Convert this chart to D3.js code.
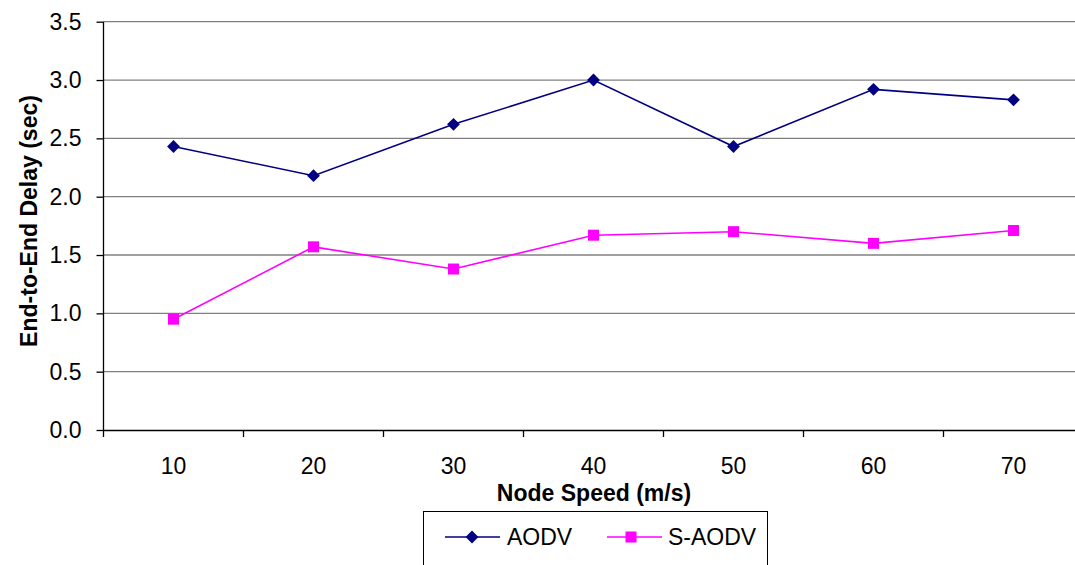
<!DOCTYPE html>
<html><head><meta charset="utf-8">
<script src="https://cdn.jsdelivr.net/npm/d3@7"></script>
<style>body{margin:0;background:#fff;} svg{display:block;}</style>
</head><body>
<script>
const categories = ["10","20","30","40","50","60","70"];
const aodv = [2.43, 2.18, 2.62, 3.00, 2.43, 2.92, 2.83];
const saodv = [0.95, 1.57, 1.38, 1.67, 1.70, 1.60, 1.71];
const yTicks = [0,0.5,1,1.5,2,2.5,3,3.5];
const seriesNames = ["AODV","S-AODV"];

(function(){
const W=1075,H=565;
const svg=d3.select("body").append("svg").attr("width",W).attr("height",H);
const pLeft=103.5, bandW=140, pTop=21.7, pBottom=430;
const x=d3.scaleBand().domain(categories).range([pLeft,pLeft+bandW*categories.length]);
const y=d3.scaleLinear().domain([0,3.5]).range([pBottom,pTop]);
const font="Liberation Sans, Arial, sans-serif";
const fs=23;

// gridlines
svg.append("g").selectAll("line").data(yTicks.filter(d=>d>0)).join("line")
 .attr("x1",pLeft).attr("x2",W).attr("y1",d=>y(d)).attr("y2",d=>y(d))
 .attr("stroke","#808080").attr("stroke-width",1.3);

// y axis
const ya=svg.append("g").attr("transform",`translate(${pLeft},0)`)
 .call(d3.axisLeft(y).tickValues(yTicks).tickFormat(d3.format(".1f")).tickSize(7).tickPadding(15));
ya.select(".domain").attr("stroke","#000").attr("stroke-width",1.3).attr("d",`M0,${y(3.5)}V${pBottom}`);
ya.selectAll(".tick line").attr("stroke","#000").attr("stroke-width",1.3);
ya.selectAll("text").attr("font-family",font).attr("font-size",fs).attr("fill","#000");

// x axis
const xa=svg.append("g").attr("transform",`translate(0,${pBottom})`)
 .call(d3.axisBottom(x).tickSize(0).tickPadding(27.5));
xa.select(".domain").attr("stroke","#000").attr("stroke-width",1.3);
xa.selectAll("text").attr("font-family",font).attr("font-size",fs).attr("fill","#000");
// category boundary ticks
svg.append("g").selectAll("line").data(categories).join("line")
 .attr("x1",d=>x(d)).attr("x2",d=>x(d)).attr("y1",pBottom).attr("y2",pBottom+7)
 .attr("stroke","#000").attr("stroke-width",1.3);

// lines
const cx=d=>x(d)+x.bandwidth()/2;
const line=d3.line().x((d,i)=>cx(categories[i])).y(d=>y(d));
svg.append("path").datum(aodv).attr("d",line).attr("fill","none").attr("stroke","#000080").attr("stroke-width",1.6);
svg.append("path").datum(saodv).attr("d",line).attr("fill","none").attr("stroke","#FF00FF").attr("stroke-width",1.6);

const diamond=d3.symbol().type(d3.symbolDiamond2).size(105);
svg.append("g").selectAll("path").data(aodv).join("path")
 .attr("d",diamond).attr("transform",(d,i)=>`translate(${cx(categories[i])},${y(d)})`).attr("fill","#000080");
svg.append("g").selectAll("rect").data(saodv).join("rect")
 .attr("x",(d,i)=>cx(categories[i])-5.5).attr("y",d=>y(d)-5.5).attr("width",11).attr("height",11).attr("fill","#FF00FF");

// axis titles
svg.append("text").attr("x",594).attr("y",501).attr("text-anchor","middle")
 .attr("font-family",font).attr("font-weight","bold").attr("font-size",fs).text("Node Speed (m/s)");
svg.append("text").attr("transform",`translate(37,221) rotate(-90)`).attr("text-anchor","middle")
 .attr("font-family",font).attr("font-weight","bold").attr("font-size",fs).text("End-to-End Delay (sec)");

// legend
svg.append("rect").attr("x",423.5).attr("y",511.5).attr("width",344).attr("height",70)
 .attr("fill","none").attr("stroke","#000").attr("stroke-width",1);
const lg=[{x:445,c:"#000080",n:seriesNames[0],m:"d",t:507},{x:607,c:"#FF00FF",n:seriesNames[1],m:"s",t:668}];
lg.forEach(l=>{
 svg.append("line").attr("x1",l.x).attr("x2",l.x+55).attr("y1",537).attr("y2",537).attr("stroke",l.c).attr("stroke-width",1.6);
 if(l.m==="d") svg.append("path").attr("d",diamond).attr("transform",`translate(${l.x+27},537)`).attr("fill",l.c);
 else svg.append("rect").attr("x",l.x+24-5.5).attr("y",531.5).attr("width",11).attr("height",11).attr("fill",l.c);
 svg.append("text").attr("x",l.t).attr("y",544.5).attr("font-family",font).attr("font-size",fs).text(l.n);
});
})();
</script>
</body></html>
